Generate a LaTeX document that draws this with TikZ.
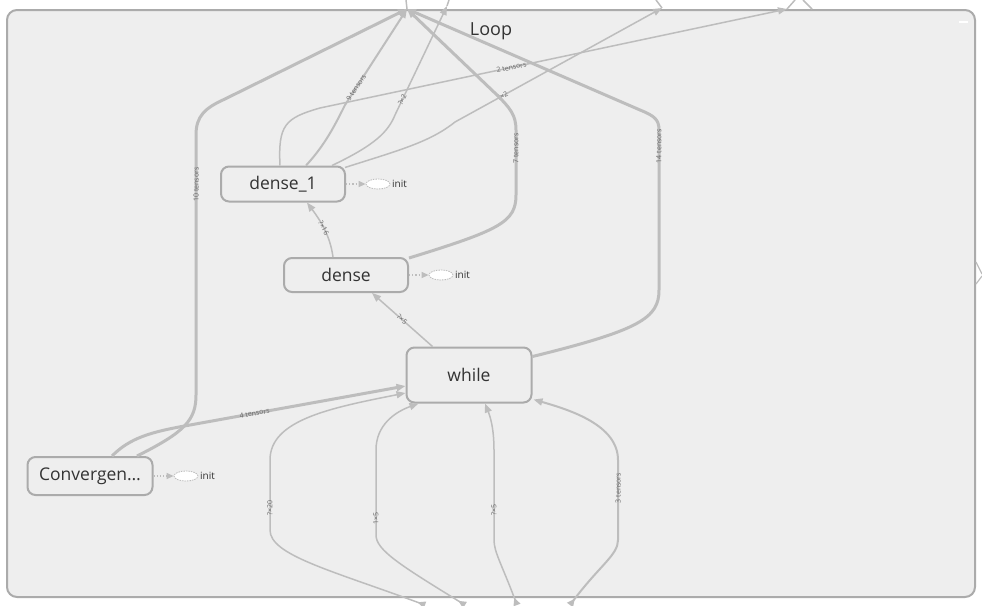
\documentclass[tikz,border=0pt]{standalone}
\usepackage{fontspec}
\setmainfont{Open Sans}
\usepackage{tikz}
\usetikzlibrary{arrows.meta,calc,shapes.geometric}

\definecolor{edgegray}{HTML}{BDBDBD}
\definecolor{boxgray}{HTML}{ABABAB}
\definecolor{bggray}{HTML}{EEEEEE}
\definecolor{textgray}{HTML}{333333}
\definecolor{labelgray}{HTML}{666666}

\tikzset{
	opbox/.style={draw=boxgray, line width=2pt, fill=bggray, rounded corners=8pt, minimum width=124pt, minimum height=35pt, font=\fontsize{17.5}{20}\selectfont, text=textgray},
	flow/.style={draw=edgegray, line width=1.5pt, -{Triangle[length=9pt,width=7pt]}},
	heavy/.style={flow, line width=3pt},
	inflow/.style={flow, {Triangle[reversed,length=8pt,width=7pt]}-{Triangle[length=9pt,width=7pt]}},
	elabel/.style={font=\fontsize{7}{8}\selectfont, text=labelgray, sloped, inner sep=0.5pt},
	initlink/.style={draw=edgegray, line width=1.2pt, dotted, -{Triangle[length=7pt,width=6pt]}},
	initop/.style={ellipse, draw=boxgray!80, line width=0.8pt, dash pattern=on 1.5pt off 1pt, fill=white, minimum width=24pt, minimum height=10pt, inner sep=0pt},
	inittext/.style={font=\fontsize{10}{12}\selectfont, text=textgray, inner sep=1pt, anchor=west},
}

\begin{document}
\begin{tikzpicture}[x=1pt, y=-1pt]
			\useasboundingbox (0, 0) rectangle (982, 605);
			\filldraw[fill=bggray, draw=boxgray, line width=2pt, rounded corners=10pt](7, 10) rectangle (975, 597);
			\draw[white, line width=2pt](959, 22) -- (968, 22);
			\node[font=\fontsize{18}{21}\selectfont, text=textgray] (title) at (491, 31) {Loop};

			% ops
			\node[opbox] (dense1) at (283, 184) {dense\_1};
			\node[opbox, minimum height=34pt] (dense) at (346, 275) {dense};
			\node[opbox, minimum width=125pt, minimum height=55pt] (while) at (469, 375) {while};
			\node[opbox, minimum width=125pt, minimum height=38pt] (conv) at (90, 476) {Convergen…};

			% init
			\node[initop] (init1) at (378, 184) {};
			\node[inittext] (initname1) at (391, 184) {init};
			\draw[initlink](dense1.east) -- (init1.west);
			\node[initop] (init2) at (441, 275) {};
			\node[inittext] (initname2) at (454, 275) {init};
			\draw[initlink](dense.east) -- (init2.west);
			\node[initop] (init3) at (186, 476) {};
			\node[inittext] (initname3) at (199, 476) {init};
			\draw[initlink](conv.east) -- (init3.west);

			% bridges out of the loop
			\coordinate (topA) at (407, 9);
			\coordinate (topB) at (447, 6);
			\coordinate (topC) at (662, 8);
			\coordinate (topD) at (787, 9);
			\coordinate (botA) at (425, 605);
			\coordinate (botB) at (465, 605);
			\coordinate (botC) at (517, 605);
			\coordinate (botD) at (570, 605);

			\draw[heavy]($(conv.north)+(47, 0)$) .. controls (185, 432) and (196, 420) .. (196, 395) -- node[elabel, pos=0.81]{10 tensors} (196, 135) .. controls (196, 116) and (205, 108) .. (225, 99) -- (topA);
			\draw[flow, line width=2pt]($(dense1.north)+(23, 0)$) .. controls (325, 145) and (335, 125) .. (345, 105) -- node[elabel, pos=0.18]{9 tensors} (topA);
			\draw[flow]($(dense1.north)+(49, 0)$) .. controls (375, 145) and (388, 132) .. (395, 115) -- node[elabel, pos=0.14]{?×2} (topB);
			\draw[flow]($(dense1.north)+(-3, 0)$) .. controls (278, 125) and (285, 118) .. (320, 108) -- node[elabel, pos=0.41]{2 tensors} (topD);
			\draw[flow]($(dense1.north east)+(-1, 2)$) .. controls (400, 150) and (430, 142) .. (455, 122) -- node[elabel, pos=0.23]{?×2} (topC);
			\draw[heavy]($(dense.north east)+(0, 1)$) .. controls (500, 230) and (516, 222) .. (516, 195) -- node[elabel, pos=0.72]{7 tensors} (516, 130) .. controls (516, 115) and (510, 108) .. (497, 95) -- (topA);
			\draw[heavy]($(while.north east)+(0, 10)$) .. controls (640, 330) and (659, 318) .. (659, 290) -- node[elabel, pos=0.9]{14 tensors} (659, 130) .. controls (659, 120) and (655, 116) .. (640, 110) -- (topA);
			\draw[heavy]($(conv.north)+(22, 0)$) .. controls (130, 438) and (150, 432) .. (190, 425) -- node[elabel, pos=0.3]{4 tensors} ($(while.west)+(0, 11)$);

			% into while from below
			\draw[inflow](botA) .. controls (330, 570) and (270, 555) .. (270, 530) -- node[elabel, pos=0.31]{?×20} (270, 460) .. controls (270, 420) and (330, 408) .. ($(while.west)+(0, 18)$);
			\draw[inflow](botB) .. controls (400, 565) and (376, 550) .. (376, 535) -- node[elabel, pos=0.2]{1×5} (376, 450) .. controls (376, 425) and (395, 412) .. ($(while.south west)+(13, 0)$);
			\draw[inflow](botC) .. controls (502, 565) and (494, 552) .. (494, 540) -- node[elabel, pos=0.33]{?×5} (494, 450) .. controls (494, 428) and (490, 416) .. ($(while.south)+(16, 0)$);
			\draw[inflow, line width=2pt](botD) .. controls (600, 565) and (618, 555) .. (618, 540) -- node[elabel, pos=0.65]{3 tensors} (618, 460) .. controls (618, 425) and (570, 410) .. ($(while.south east)+(1, -4)$);

			\draw[flow]($(while.north west)+(27, 0)$) -- node[elabel]{?×5} ($(dense.south)+(26, 0)$);
			\draw[flow]($(dense.north)+(-13, 0)$) .. controls (330, 235) and (320, 220) .. node[elabel]{?×16} ($(dense1.south)+(24, 0)$);

			% stubs outside
			\draw[edgegray, line width=1.5pt](topA) -- (406, 0);
			\draw[edgegray, line width=1.5pt](topB) -- (449, 0);
			\draw[edgegray, line width=1.5pt](topC) -- (656, 0);
			\draw[edgegray, line width=1.5pt](topD) -- (795, 0);
			\draw[edgegray, line width=1.5pt](803, 0) -- (812, 9);
			\draw[edgegray, line width=1.2pt](976, 262) -- (982, 274);
			\draw[edgegray, line width=1.2pt](976, 284) -- (982, 276);
		\end{tikzpicture}
\end{document}
